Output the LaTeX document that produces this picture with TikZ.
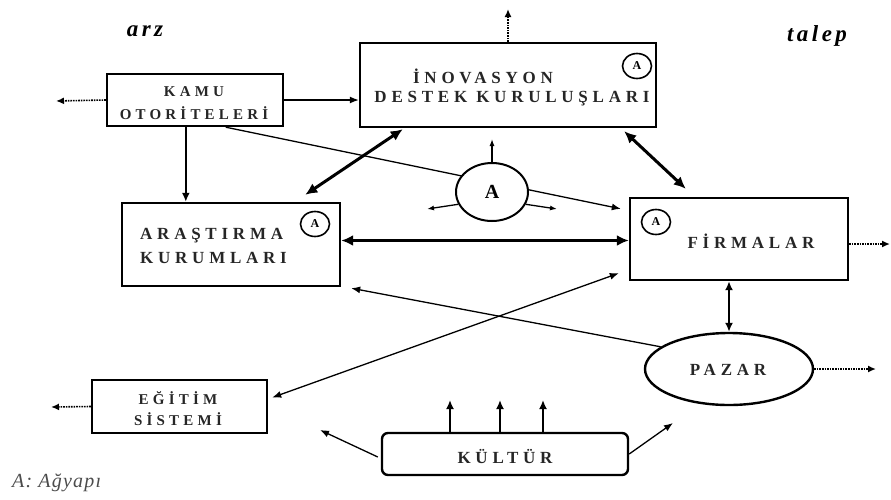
\documentclass[tikz,border=0pt]{standalone}
\usepackage{fontspec}
\setmainfont{Liberation Serif}
\newfontfamily\lsf[LetterSpace=28]{Liberation Serif}
\newfontfamily\lsg[LetterSpace=15]{Liberation Serif}
\newfontfamily\lsh[LetterSpace=6]{Liberation Serif}
\usetikzlibrary{arrows.meta,shapes.geometric,calc}
\tikzset{
  box/.style={draw, line width=2.4pt, rectangle, inner sep=0pt},
  lbl/.style={font=\lsf\bfseries\fontsize{17}{20}\selectfont, align=center, inner sep=0pt, text=black!85},
  lbls/.style={font=\lsf\bfseries\fontsize{15}{20}\selectfont, align=center, inner sep=0pt, text=black!85},
  mini/.style={draw, line width=1.6pt, ellipse, minimum width=29pt, minimum height=25pt, inner sep=0pt, font=\bfseries\fontsize{12}{12}\selectfont},
  thinar/.style={line width=1.3pt, -{Latex[length=9pt,width=7pt]}},
  thinbi/.style={line width=1.3pt, {Latex[length=9pt,width=7pt]}-{Latex[length=9pt,width=7pt]}},
  thickbi/.style={line width=3pt, {Latex[length=12pt,width=11pt]}-{Latex[length=12pt,width=11pt]}},
  medar/.style={line width=2pt, -{Latex[length=9pt,width=8pt]}},
  medbi/.style={line width=2pt, {Latex[length=9pt,width=8pt]}-{Latex[length=9pt,width=8pt]}},
  dotar/.style={line width=1.6pt, densely dotted, -{Latex[length=8pt,width=7pt]}},
  smallar/.style={line width=1.3pt, -{Latex[length=7pt,width=5pt]}},
  ttl/.style={font=\lsg\bfseries\itshape\fontsize{23}{23}\selectfont, inner sep=0pt},
}
\begin{document}
\begin{tikzpicture}[x=1pt,y=-1pt]
\useasboundingbox (0,0) rectangle (891,499);

% titles
\node[ttl] (arz) at (145,31) {arz};
\node[ttl] (talep) at (817,36) {talep};

% boxes
\node[box, minimum width=176pt, minimum height=52pt] (kamu) at (195,100) {};
\node[lbls] at (194,92) {KAMU};
\node[lbls] at (194,113) {OTORİTELERİ};

\node[box, minimum width=296pt, minimum height=84pt] (inov) at (508,85) {};
\node[lbl] at (483,76) {İNOVASYON};
\node[lbl] at (512,99) {DESTEK KURULUŞLARI};
\node[mini] (ainov) at (637,66) {A};

\node[box, minimum width=218pt, minimum height=83pt] (aras) at (231,244.5) {};
\node[lbl, anchor=west] at (140,236) {ARAŞTIRMA};
\node[lbl, anchor=west] at (140,258) {KURUMLARI};
\node[mini] (aaras) at (315,224) {A};

\node[box, minimum width=218pt, minimum height=82pt] (firm) at (739,239) {};
\node[lbl] at (751,241) {FİRMALAR};
\node[mini] (afirm) at (656,222) {A};

\node[box, minimum width=175pt, minimum height=53pt] (egit) at (179.5,406.5) {};
\node[lbls] at (178,398) {EĞİTİM};
\node[lbls] at (178,419) {SİSTEMİ};

\node[box, rounded corners=6pt, minimum width=246pt, minimum height=42pt] (kult) at (505,454) {};
\node[lbl] at (505,456) {KÜLTÜR};

\node[draw, line width=2.4pt, ellipse, minimum width=168pt, minimum height=72pt, inner sep=0pt] (pazar) at (729,369) {};
\node[lbl] at (728,370) {PAZAR};

% kamu -> firm line (behind ellipse A)
\coordinate (kf1) at ($(kamu.south west)+(120,0)$);
\coordinate (kf2) at ($(firm.north west)+(-8,12)$);
\draw[thinar] (kf1) -- (kf2);

% central A ellipse
\node[draw, fill=white, line width=2pt, ellipse, minimum width=72pt, minimum height=58pt, inner sep=0pt, font=\bfseries\fontsize{20}{20}\selectfont] (aell) at (492,192) {A};
\coordinate (aup) at (492,139);
\coordinate (aleft) at (427,209);
\coordinate (aright) at (557,209);
\draw[smallar] (aell.north) -- (aup);
\draw[smallar] (aell.200) -- (aleft);
\draw[smallar] (aell.-20) -- (aright);

% connectors
\draw[thinar] (kamu.east) -- (kamu.east -| inov.west);
\coordinate (kd) at ($(kamu.south west)+(80,0)$);
\draw[medar] (kd) -- (kd |- aras.north);

\coordinate (ai1) at ($(aras.north east)+(-36,-7)$);
\coordinate (ai2) at ($(inov.south west)+(44,1)$);
\draw[thickbi] (ai1) -- (ai2);

\coordinate (af1) at ($(aras.east)+(0,-4)$);
\draw[thickbi] (af1) -- (af1 -| firm.west);

\coordinate (if1) at ($(inov.south east)+(-33,3)$);
\coordinate (if2) at ($(firm.north west)+(57,-8)$);
\draw[thickbi] (if1) -- (if2);

\coordinate (pa2) at ($(aras.south east)+(10,1)$);
\draw[thinar] (pazar.162) -- (pa2);

\coordinate (ef1) at ($(egit.east)+(4,-9)$);
\coordinate (ef2) at ($(firm.south west)+(-10,-8)$);
\draw[thinbi] (ef1) -- (ef2);

\draw[medbi] (pazar.north |- firm.south) -- (pazar.north);

% culture arrows
\foreach \xx [count=\i] in {450,500,543} {
  \coordinate (ku\i) at (\xx,400);
  \draw[medar] (ku\i |- kult.north) -- (ku\i);
}
\coordinate (kl) at (320,430);
\coordinate (kr) at (673,423);
\draw[thinar] ($(kult.west)+(-3,3)$) -- (kl);
\draw[thinar] (kult.east) -- (kr);

% dotted outward arrows
\coordinate (dk) at (56,101);
\coordinate (di) at (508,9);
\coordinate (df) at (890,244);
\coordinate (dp) at (876,369);
\coordinate (de) at (51,407);
\draw[dotar] (kamu.west) -- (dk);
\draw[dotar] (inov.north) -- (di);
\draw[dotar] (firm.east |- df) -- (df);
\draw[dotar] (pazar.east) -- (dp);
\draw[dotar] (egit.west) -- (de);

% legend
\node[font=\lsh\itshape\fontsize{20}{20}\selectfont, text=black!70, anchor=west, inner sep=0pt] (leg) at (12,483) {A: Ağyapı};
\end{tikzpicture}
\end{document}
